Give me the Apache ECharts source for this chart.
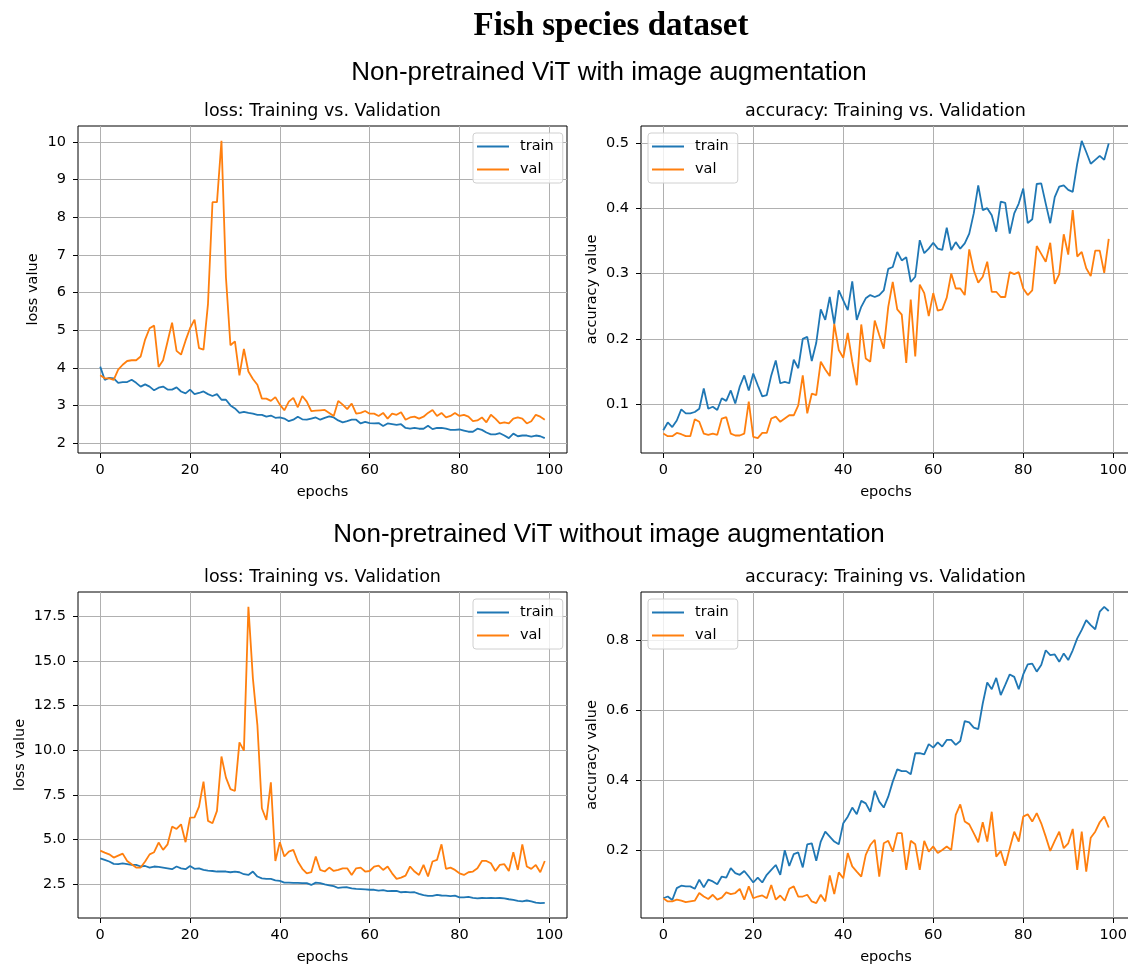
<!DOCTYPE html>
<html>
<head>
<meta charset="utf-8">
<title>Fish species dataset</title>
<script src="https://cdn.jsdelivr.net/npm/echarts@6/dist/echarts.min.js"></script>
<style>
  html, body { margin: 0; padding: 0; background: #ffffff; overflow: hidden; }
  /* The canvas is a little wider than the page so the right-hand panels can run past its edge. */
  #chart { width: 1140px; height: 967px; }
</style>
</head>
<body>
<div id="chart"></div>
<script>
// Training history of a ViT trained from scratch on the fish species dataset.
const epochs = Array.from({ length: 100 }, (_, i) => i);
const xTicks = [0, 20, 40, 60, 80, 100];

const lossTicksAug = [2, 3, 4, 5, 6, 7, 8, 9, 10];
const accTicksAug = [0.1, 0.2, 0.3, 0.4, 0.5];
const lossTicksNoAug = [2.5, 5, 7.5, 10, 12.5, 15, 17.5];
const accTicksNoAug = [0.2, 0.4, 0.6, 0.8];

// With image augmentation
const lossTrainAug = [
  4.03, 3.68, 3.73, 3.72, 3.60, 3.62, 3.62, 3.68, 3.60, 3.50,
  3.56, 3.50, 3.40, 3.47, 3.50, 3.42, 3.42, 3.48, 3.37, 3.32,
  3.42, 3.30, 3.33, 3.37, 3.30, 3.25, 3.30, 3.15, 3.15, 3.00,
  2.92, 2.80, 2.83, 2.80, 2.78, 2.75, 2.75, 2.70, 2.73, 2.67,
  2.68, 2.65, 2.58, 2.62, 2.70, 2.63, 2.62, 2.65, 2.68, 2.62,
  2.67, 2.71, 2.68, 2.60, 2.55, 2.58, 2.62, 2.62, 2.52, 2.56,
  2.53, 2.52, 2.53, 2.45, 2.52, 2.50, 2.48, 2.50, 2.40, 2.38,
  2.40, 2.38, 2.38, 2.46, 2.37, 2.40, 2.40, 2.38, 2.35, 2.35,
  2.36, 2.33, 2.30, 2.30, 2.38, 2.35, 2.28, 2.23, 2.23, 2.26,
  2.20, 2.13, 2.25, 2.18, 2.20, 2.20, 2.17, 2.20, 2.18, 2.13
];
const lossValAug = [
  3.80, 3.72, 3.72, 3.68, 3.95, 4.08, 4.18, 4.20, 4.20, 4.30,
  4.75, 5.05, 5.12, 4.02, 4.20, 4.70, 5.20, 4.45, 4.35, 4.72,
  5.05, 5.28, 4.52, 4.48, 5.70, 8.40, 8.40, 10.03, 6.40, 4.60,
  4.70, 3.80, 4.50, 3.90, 3.70, 3.55, 3.18, 3.18, 3.12, 3.22,
  3.02, 2.87, 3.10, 3.20, 2.95, 3.25, 3.10, 2.85, 2.86, 2.87,
  2.88, 2.80, 2.72, 3.12, 3.02, 2.90, 3.05, 2.78, 2.80, 2.85,
  2.78, 2.78, 2.72, 2.80, 2.65, 2.78, 2.75, 2.82, 2.62, 2.68,
  2.70, 2.65, 2.70, 2.80, 2.88, 2.72, 2.80, 2.68, 2.72, 2.80,
  2.72, 2.75, 2.70, 2.58, 2.60, 2.68, 2.55, 2.75, 2.65, 2.52,
  2.55, 2.52, 2.65, 2.68, 2.65, 2.52, 2.58, 2.75, 2.70, 2.62
];
const accTrainAug = [
  0.060, 0.072, 0.065, 0.075, 0.092, 0.086, 0.086, 0.088, 0.093, 0.124,
  0.093, 0.096, 0.091, 0.109, 0.105, 0.121, 0.101, 0.127, 0.144, 0.121,
  0.147, 0.129, 0.112, 0.114, 0.144, 0.167, 0.132, 0.134, 0.132, 0.168,
  0.155, 0.200, 0.203, 0.166, 0.194, 0.245, 0.229, 0.264, 0.223, 0.274,
  0.259, 0.244, 0.288, 0.229, 0.249, 0.262, 0.267, 0.264, 0.267, 0.274,
  0.307, 0.310, 0.333, 0.320, 0.325, 0.287, 0.295, 0.351, 0.331, 0.338,
  0.347, 0.338, 0.336, 0.370, 0.336, 0.348, 0.338, 0.346, 0.361, 0.392,
  0.435, 0.397, 0.400, 0.389, 0.364, 0.410, 0.408, 0.361, 0.392, 0.407,
  0.430, 0.377, 0.383, 0.437, 0.438, 0.407, 0.377, 0.417, 0.433, 0.435,
  0.428, 0.425, 0.468, 0.503, 0.486, 0.468, 0.474, 0.480, 0.474, 0.499
];
const accValAug = [
  0.055, 0.051, 0.051, 0.056, 0.054, 0.051, 0.051, 0.077, 0.073, 0.055,
  0.053, 0.055, 0.053, 0.078, 0.080, 0.055, 0.052, 0.052, 0.055, 0.104,
  0.050, 0.048, 0.056, 0.056, 0.078, 0.081, 0.073, 0.078, 0.083, 0.083,
  0.098, 0.144, 0.086, 0.116, 0.114, 0.165, 0.153, 0.143, 0.223, 0.183,
  0.171, 0.209, 0.165, 0.129, 0.222, 0.170, 0.165, 0.228, 0.206, 0.185,
  0.249, 0.287, 0.245, 0.237, 0.163, 0.260, 0.173, 0.283, 0.270, 0.235,
  0.270, 0.243, 0.245, 0.263, 0.300, 0.277, 0.277, 0.267, 0.337, 0.305,
  0.286, 0.295, 0.318, 0.272, 0.272, 0.264, 0.264, 0.302, 0.299, 0.302,
  0.277, 0.267, 0.274, 0.342, 0.330, 0.318, 0.347, 0.284, 0.299, 0.360,
  0.329, 0.397, 0.326, 0.333, 0.308, 0.296, 0.335, 0.335, 0.301, 0.353
];

// Without image augmentation
const lossTrainNoAug = [
  3.96, 3.87, 3.78, 3.65, 3.63, 3.67, 3.63, 3.59, 3.59, 3.50,
  3.53, 3.44, 3.50, 3.48, 3.44, 3.40, 3.35, 3.50, 3.40, 3.35,
  3.53, 3.37, 3.40, 3.31, 3.27, 3.25, 3.22, 3.22, 3.22, 3.18,
  3.22, 3.18, 3.07, 3.03, 3.22, 2.94, 2.84, 2.81, 2.81, 2.73,
  2.70, 2.60, 2.60, 2.58, 2.58, 2.57, 2.57, 2.47, 2.60, 2.57,
  2.50, 2.45, 2.40, 2.30, 2.33, 2.34, 2.28, 2.25, 2.24, 2.22,
  2.20, 2.20, 2.15, 2.18, 2.12, 2.13, 2.14, 2.06, 2.08, 2.05,
  2.06, 1.97, 1.90, 1.86, 1.86, 1.92, 1.88, 1.87, 1.85, 1.87,
  1.78, 1.78, 1.80, 1.75, 1.72, 1.74, 1.73, 1.74, 1.73, 1.74,
  1.72, 1.67, 1.63, 1.58, 1.55, 1.60, 1.55, 1.48, 1.45, 1.47
];
const lossValNoAug = [
  4.39, 4.28, 4.18, 4.00, 4.11, 4.22, 3.81, 3.63, 3.44, 3.44,
  3.78, 4.18, 4.30, 4.84, 4.43, 4.74, 5.73, 5.60, 5.86, 4.86,
  6.23, 6.25, 6.85, 8.25, 6.05, 5.92, 6.61, 9.65, 8.47, 7.83,
  7.72, 10.44, 9.98, 18.02, 14.02, 11.41, 6.76, 6.10, 8.21, 3.81,
  4.86, 4.06, 4.33, 4.43, 3.78, 3.37, 3.11, 3.18, 4.06, 3.31,
  3.22, 3.44, 3.25, 3.31, 3.40, 3.40, 3.03, 3.40, 3.44, 3.22,
  3.25, 3.50, 3.55, 3.31, 3.50, 3.12, 2.81, 2.88, 2.99, 3.50,
  3.22, 3.03, 3.59, 2.94, 3.78, 3.87, 4.74, 3.37, 3.44, 3.31,
  3.12, 3.03, 3.18, 3.22, 3.40, 3.81, 3.81, 3.68, 3.25, 3.59,
  3.63, 3.25, 4.30, 3.31, 4.74, 3.50, 3.37, 3.59, 3.18, 3.81
];
const accTrainNoAug = [
  0.063, 0.068, 0.058, 0.092, 0.099, 0.097, 0.097, 0.090, 0.116, 0.094,
  0.116, 0.111, 0.103, 0.125, 0.122, 0.149, 0.135, 0.130, 0.141, 0.125,
  0.108, 0.122, 0.108, 0.130, 0.144, 0.158, 0.130, 0.200, 0.155, 0.189,
  0.194, 0.151, 0.217, 0.220, 0.170, 0.225, 0.253, 0.239, 0.225, 0.217,
  0.277, 0.296, 0.322, 0.303, 0.341, 0.334, 0.310, 0.370, 0.339, 0.322,
  0.353, 0.396, 0.431, 0.426, 0.426, 0.417, 0.477, 0.477, 0.474, 0.503,
  0.493, 0.508, 0.496, 0.515, 0.515, 0.501, 0.512, 0.569, 0.565, 0.550,
  0.546, 0.619, 0.679, 0.660, 0.692, 0.643, 0.672, 0.702, 0.695, 0.660,
  0.702, 0.731, 0.733, 0.710, 0.729, 0.771, 0.757, 0.759, 0.738, 0.762,
  0.743, 0.771, 0.805, 0.829, 0.857, 0.843, 0.831, 0.881, 0.895, 0.883
];
const accValNoAug = [
  0.063, 0.054, 0.054, 0.059, 0.056, 0.052, 0.054, 0.056, 0.078, 0.068,
  0.061, 0.073, 0.059, 0.065, 0.080, 0.075, 0.078, 0.090, 0.059, 0.097,
  0.063, 0.068, 0.071, 0.063, 0.101, 0.059, 0.071, 0.056, 0.090, 0.097,
  0.068, 0.068, 0.073, 0.054, 0.049, 0.073, 0.054, 0.128, 0.075, 0.137,
  0.120, 0.192, 0.154, 0.139, 0.125, 0.187, 0.215, 0.230, 0.125, 0.220,
  0.227, 0.196, 0.249, 0.249, 0.144, 0.227, 0.217, 0.144, 0.227, 0.196,
  0.211, 0.192, 0.201, 0.211, 0.201, 0.301, 0.331, 0.282, 0.274, 0.249,
  0.223, 0.280, 0.225, 0.310, 0.182, 0.198, 0.156, 0.206, 0.253, 0.225,
  0.296, 0.303, 0.282, 0.306, 0.277, 0.239, 0.198, 0.227, 0.253, 0.206,
  0.220, 0.261, 0.144, 0.253, 0.139, 0.236, 0.253, 0.280, 0.296, 0.265
];

const TRAIN_COLOR = '#1f77b4';
const VAL_COLOR = '#ff7f0e';
const SANS = '"DejaVu Sans", sans-serif';
const TICK_FONT = 14.5;

// Axis limits with a 5% margin on each side of the data.
function paddedRange(arrays) {
  const all = [].concat(...arrays);
  const lo = Math.min(...all), hi = Math.max(...all);
  const pad = (hi - lo) * 0.05;
  return [lo - pad, hi + pad];
}

const panels = [
  { grid: { left: 78, top: 126, width: 489, height: 327 }, cx: 322.5, train: lossTrainAug, val: lossValAug,
    ticks: lossTicksAug, decimals: 0, yName: 'loss value', nameGap: 37,
    title: 'loss: Training vs. Validation', legend: { left: 473, top: 133 } },
  { grid: { left: 641, top: 126, width: 490, height: 327 }, cx: 885.5, train: accTrainAug, val: accValAug,
    ticks: accTicksAug, decimals: 1, yName: 'accuracy value', nameGap: 41,
    title: 'accuracy: Training vs. Validation', legend: { left: 648, top: 133 } },
  { grid: { left: 78, top: 592, width: 489, height: 326 }, cx: 322.5, train: lossTrainNoAug, val: lossValNoAug,
    ticks: lossTicksNoAug, decimals: 1, yName: 'loss value', nameGap: 50,
    title: 'loss: Training vs. Validation', legend: { left: 473, top: 599 } },
  { grid: { left: 641, top: 592, width: 490, height: 326 }, cx: 885.5, train: accTrainNoAug, val: accValNoAug,
    ticks: accTicksNoAug, decimals: 1, yName: 'accuracy value', nameGap: 41,
    title: 'accuracy: Training vs. Validation', legend: { left: 648, top: 599 } }
];

const xRange = paddedRange([epochs]);

const option = {
  animation: false,
  backgroundColor: '#ffffff',
  grid: panels.map(p => Object.assign({
    show: true, borderColor: '#000000', borderWidth: 1, backgroundColor: 'transparent',
    containLabel: false, outerBoundsMode: 'none'
  }, p.grid)),
  xAxis: panels.map((p, i) => ({
    type: 'value', gridIndex: i, min: xRange[0], max: xRange[1],
    axisLine: { show: false, onZero: false },
    axisTick: { show: true, length: 5, customValues: xTicks, lineStyle: { color: '#000', width: 1 } },
    axisLabel: { customValues: xTicks, margin: 10, color: '#000', fontFamily: SANS, fontSize: TICK_FONT },
    splitLine: { show: true, lineStyle: { color: '#b0b0b0', width: 1 } },
    name: 'epochs', nameLocation: 'middle', nameGap: 32,
    nameTextStyle: { color: '#000', fontFamily: SANS, fontSize: TICK_FONT }
  })),
  yAxis: panels.map((p, i) => {
    const r = paddedRange([p.train, p.val]);
    return {
      type: 'value', gridIndex: i, min: r[0], max: r[1],
      axisLine: { show: false, onZero: false },
      axisTick: { show: true, length: 5, customValues: p.ticks, lineStyle: { color: '#000', width: 1 } },
      axisLabel: {
        customValues: p.ticks, margin: 12, color: '#000', fontFamily: SANS, fontSize: TICK_FONT,
        formatter: v => Number(v).toFixed(p.decimals)
      },
      splitLine: { show: true, lineStyle: { color: '#b0b0b0', width: 1 } },
      name: p.yName, nameLocation: 'middle', nameGap: p.nameGap,
      nameTextStyle: { color: '#000', fontFamily: SANS, fontSize: TICK_FONT }
    };
  }),
  legend: panels.map(p => ({
    data: ['train', 'val'], orient: 'vertical', left: p.legend.left, top: p.legend.top,
    icon: 'rect', itemWidth: 32, itemHeight: 2, itemGap: 8, padding: [6, 9, 6, 4],
    backgroundColor: 'rgba(255,255,255,0.8)', borderColor: '#d0d0d0', borderWidth: 1, borderRadius: 3,
    selectedMode: false,
    textStyle: { color: '#000', fontFamily: SANS, fontSize: TICK_FONT, lineHeight: 15, padding: [0, 0, 0, 6] }
  })),
  series: [].concat(...panels.map((p, i) => [
    { name: 'train', data: p.train, color: TRAIN_COLOR },
    { name: 'val', data: p.val, color: VAL_COLOR }
  ].map(s => ({
    type: 'line', name: s.name, xAxisIndex: i, yAxisIndex: i,
    data: epochs.map((e, j) => [e, s.data[j]]),
    symbol: 'none', showSymbol: false, silent: true,
    itemStyle: { color: s.color },
    lineStyle: { color: s.color, width: 1.8 }
  })))),
  graphic: [
    { text: 'Fish species dataset', x: 611, y: 26, size: 33, family: '"Liberation Serif", "Times New Roman", serif', weight: 'bold' },
    { text: 'Non-pretrained ViT with image augmentation', x: 609, y: 73, size: 26, family: '"Liberation Sans", Arial, sans-serif', weight: 'normal' },
    { text: 'Non-pretrained ViT without image augmentation', x: 609, y: 535, size: 26, family: '"Liberation Sans", Arial, sans-serif', weight: 'normal' }
  ].concat(panels.map(p => ({
    text: p.title, x: p.cx, y: p.grid.top - 15, size: 17.5, family: SANS, weight: 'normal'
  }))).map(t => ({
    type: 'text', x: t.x, y: t.y, silent: true,
    style: {
      text: t.text, fill: '#000', fontSize: t.size, fontFamily: t.family, fontWeight: t.weight,
      align: 'center', verticalAlign: 'middle', textAlign: 'center', textVerticalAlign: 'middle'
    }
  }))
};

const chart = echarts.init(document.getElementById('chart'), null, { renderer: 'canvas' });
chart.setOption(option);
</script>
</body>
</html>
